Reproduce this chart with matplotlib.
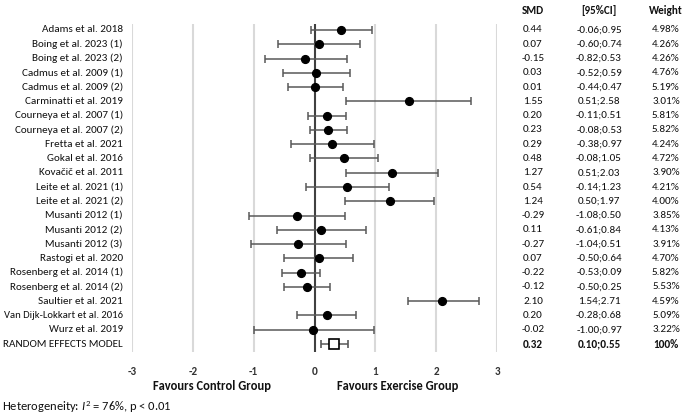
import matplotlib
matplotlib.use("Agg")
import matplotlib.pyplot as plt
import matplotlib.transforms as mtransforms

plt.rcParams['font.family'] = ['Carlito', 'Lato', 'DejaVu Sans']
plt.rcParams['mathtext.fontset'] = 'custom'
plt.rcParams['mathtext.rm'] = 'Carlito'
plt.rcParams['mathtext.it'] = 'Carlito:italic'

studies = ["Adams et al. 2018", "Boing et al. 2023 (1)", "Boing et al. 2023 (2)",
           "Cadmus et al. 2009 (1)", "Cadmus et al. 2009 (2)", "Carminatti et al. 2019",
           "Courneya et al. 2007 (1)", "Courneya et al. 2007 (2)", "Fretta et al. 2021",
           "Gokal et al. 2016", "Kovačič et al. 2011", "Leite et al. 2021 (1)",
           "Leite et al. 2021 (2)", "Musanti 2012 (1)", "Musanti 2012 (2)",
           "Musanti 2012 (3)", "Rastogi et al. 2020", "Rosenberg et al. 2014 (1)",
           "Rosenberg et al. 2014 (2)", "Saultier et al. 2021", "Van Dijk-Lokkart et al. 2016",
           "Wurz et al. 2019"]
smd = [0.44, 0.07, -0.15, 0.03, 0.01, 1.55, 0.20, 0.23, 0.29, 0.48, 1.27, 0.54,
       1.24, -0.29, 0.11, -0.27, 0.07, -0.22, -0.12, 2.10, 0.20, -0.02]
ci_low = [-0.06, -0.60, -0.82, -0.52, -0.44, 0.51, -0.11, -0.08, -0.38, -0.08, 0.51, -0.14,
          0.50, -1.08, -0.61, -1.04, -0.50, -0.53, -0.50, 1.54, -0.28, -1.00]
ci_high = [0.95, 0.74, 0.53, 0.59, 0.47, 2.58, 0.51, 0.53, 0.97, 1.05, 2.03, 1.23,
           1.97, 0.50, 0.84, 0.51, 0.64, 0.09, 0.25, 2.71, 0.68, 0.97]
weights = ["4.98%", "4.26%", "4.26%", "4.76%", "5.19%", "3.01%", "5.81%", "5.82%", "4.24%",
           "4.72%", "3.90%", "4.21%", "4.00%", "3.85%", "4.13%", "3.91%", "4.70%", "5.82%",
           "5.53%", "4.59%", "5.09%", "3.22%"]
pooled_label = "RANDOM EFFECTS MODEL"
pooled_smd = 0.32
pooled_low = 0.10
pooled_high = 0.55
pooled_weight = "100%"
xticks = [-3, -2, -1, 0, 1, 2, 3]

W, H = 685, 415
fig = plt.figure(figsize=(W / 100, H / 100), dpi=100)
left, right, top, bottom = 132, 497, 24, 352
ax = fig.add_axes([left / W, 1 - bottom / H, (right - left) / W, (bottom - top) / H])

n = len(studies)
ys = list(range(n))
ax.set_xlim(-3, 3)
ax.set_ylim(n + 0.56, -0.42)

for xv in xticks:
    if xv != 0:
        ax.axvline(xv, color='#d9d9d9', lw=1.5, zorder=0)
ax.axvline(0, color='#404040', lw=1.5, zorder=1)

errcol = '#595959'
for i in range(n):
    ax.errorbar(smd[i], ys[i], xerr=[[smd[i] - ci_low[i]], [ci_high[i] - smd[i]]],
                fmt='o', color='black', ecolor=errcol, elinewidth=1.1, capsize=2.6,
                capthick=1.1, markersize=5.6, zorder=3)
ax.errorbar(pooled_smd, n, xerr=[[pooled_smd - pooled_low], [pooled_high - pooled_smd]],
            fmt='s', mfc='white', mec='black', mew=1.2, ecolor=errcol, elinewidth=1.1,
            capsize=2.6, capthick=1.1, markersize=7.6, zorder=3)

for s in ax.spines.values():
    s.set_visible(False)
ax.set_yticks([])
ax.set_xticks(xticks)
ax.set_xticklabels([str(t) for t in xticks], fontsize=8, fontweight='bold', color='#333333')
ax.tick_params(axis='x', length=0, pad=10)

fs = 8
all_labels = studies + [pooled_label]
for i, lab in enumerate(all_labels):
    lfs = fs if len(lab) < 26 else 7.7
    ax.text(-3.15, i, lab, ha='right', va='center', fontsize=lfs, clip_on=False, color='#111111')

def fx(px):
    return px / W

blend = mtransforms.blended_transform_factory(fig.transFigure, ax.transData)
for i in range(n + 1):
    if i < n:
        vals = (f"{smd[i]:.2f}", f"{ci_low[i]:.2f};{ci_high[i]:.2f}", weights[i])
        wt = 'normal'
    else:
        vals = (f"{pooled_smd:.2f}", f"{pooled_low:.2f};{pooled_high:.2f}", pooled_weight)
        wt = 'bold'
    for xp, v in zip((533, 599, 666), vals):
        ax.text(fx(xp), i, v, transform=blend, ha='center', va='center', fontsize=fs,
                fontweight=wt, color='#111111')

for xp, h in zip((533, 599, 666), ("SMD", "[95%CI]", "Weight")):
    fig.text(fx(xp), 1 - 10 / H, h, ha='center', va='center', fontsize=fs,
             fontweight='bold', color='#111111')

fig.text(fx(212), 1 - 386 / H, "Favours Control Group", ha='center', va='center',
         fontsize=9, fontweight='bold', color='#111111')
fig.text(fx(398), 1 - 386 / H, "Favours Exercise Group", ha='center', va='center',
         fontsize=9, fontweight='bold', color='#111111')
fig.text(fx(2), 1 - 407 / H, r"Heterogeneity: $I^2$ = 76%, p < 0.01", ha='left',
         va='center', fontsize=9, color='#111111')

fig.savefig("out.png", dpi=100)
